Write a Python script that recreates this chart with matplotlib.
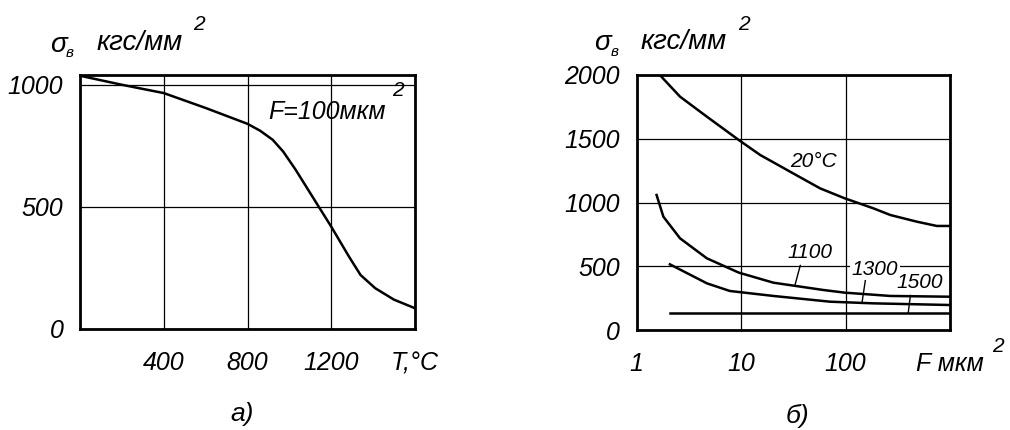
import matplotlib
matplotlib.use("Agg")
import matplotlib.pyplot as plt

# ---------------- data ----------------
# panel a): sigma_b vs T at F = 100 mkm^2
T_a = [0, 200, 400, 600, 800, 860, 920, 970, 1030, 1140, 1200, 1285, 1340, 1410, 1500, 1600]
S_a = [1037, 1000, 966, 905, 840, 812, 775, 727, 652, 501, 419, 296, 221, 167, 120, 85]
xticks_a = [400, 800, 1200, 1600]
xlabels_a = ["400", "800", "1200", "T,°С"]
yticks_a = [0, 500, 1000]

# panel б): sigma_b vs F for several temperatures
F_20 = [1.7, 2.6, 4.7, 9.5, 15.2, 29.4, 57, 98, 185, 268, 479, 748, 1000]
S_20 = [1992, 1830, 1673, 1490, 1373, 1242, 1111, 1033, 954, 902, 850, 816, 816]
F_1100 = [1.55, 1.8, 2.6, 4.7, 9.5, 20.4, 61, 98, 268, 1000]
S_1100 = [1059, 889, 719, 562, 450, 371, 314, 293, 267, 261]
F_1300 = [2.08, 4.7, 7.8, 20.4, 71, 185, 1000]
S_1300 = [515, 366, 306, 267, 222, 209, 196]
F_1500 = [2.08, 1000]
S_1500 = [131, 131]
xticks_b = [1, 10, 100, 1000]
xlabels_b = ["1", "10", "100", "F мкм"]
yticks_b = [0, 500, 1000, 1500, 2000]

# ---------------- style ----------------
plt.rcParams["font.family"] = ["Liberation Sans", "DejaVu Sans"]
plt.rcParams["font.style"] = "italic"

W, H = 1010, 430
fig = plt.figure(figsize=(W / 100, H / 100), dpi=100)
TS = 18  # tick / main text size


def ftxt(x, y, s, size=TS, **kw):
    fig.text(x / W, 1 - y / H, s, fontsize=size, ha="center", va="center",
             style="italic", **kw)


def style_ax(ax):
    for sp in ax.spines.values():
        sp.set_linewidth(2.0)
        sp.set_color("black")
    ax.grid(True, color="black", lw=0.9)
    ax.tick_params(length=0, labelsize=TS)
    ax.tick_params(axis="x", pad=16)
    ax.tick_params(axis="y", pad=12)
    ax.set_axisbelow(True)


# ---------------- panel a ----------------
axa = fig.add_axes([80 / W, 1 - 329 / H, 335 / W, 254 / H])
axa.plot(T_a, S_a, color="black", lw=1.8)
axa.set_xlim(0, 1600)
axa.set_ylim(0, 1040)
axa.set_xticks(xticks_a)
axa.set_xticklabels(xlabels_a)
axa.set_yticks(yticks_a)
style_ax(axa)

ftxt(327, 112, "F=100мкм", 18)
ftxt(398, 90, "2", 15)

ftxt(58, 45, "σ", 20)
ftxt(70, 53, "в", 11)
ftxt(140, 43, "кгс/мм", 20)
ftxt(199, 24, "2", 15)
ftxt(242, 414, "а)", 19)

# ---------------- panel б ----------------
axb = fig.add_axes([636.7 / W, 1 - 330 / H, 313.3 / W, 255 / H])
for F, S in [(F_20, S_20), (F_1100, S_1100), (F_1300, S_1300), (F_1500, S_1500)]:
    axb.plot(F, S, color="black", lw=1.8)
axb.set_xscale("log")
axb.set_xlim(1, 1000)
axb.set_ylim(0, 2000)
axb.set_xticks(xticks_b)
axb.set_xticklabels(xlabels_b)
axb.minorticks_off()
axb.set_yticks(yticks_b)
style_ax(axb)

LS = 15
axb.text(49, 1318, "20°С", fontsize=LS, ha="center", va="center", style="italic")
lab_kw = dict(fontsize=LS, ha="center", va="center", style="italic",
              arrowprops=dict(arrowstyle="-", color="black", lw=1.0,
                              shrinkA=0, shrinkB=0, relpos=(0.3, 0.0)))
axb.annotate("1100", xy=(32.8, 353), xytext=(45.7, 604), **lab_kw)
axb.annotate("1300", xy=(144, 220), xytext=(191, 478),
             bbox=dict(fc="white", ec="none", pad=1), **lab_kw)
axb.annotate("1500", xy=(398, 133), xytext=(517, 369), **lab_kw)

ftxt(998, 347, "2", 15)
ftxt(602, 43, "σ", 20)
ftxt(615, 52, "в", 11)
ftxt(684, 42, "кгс/мм", 20)
ftxt(744, 24, "2", 15)
ftxt(797, 416, "б)", 19)

fig.savefig("out.png", dpi=100)
